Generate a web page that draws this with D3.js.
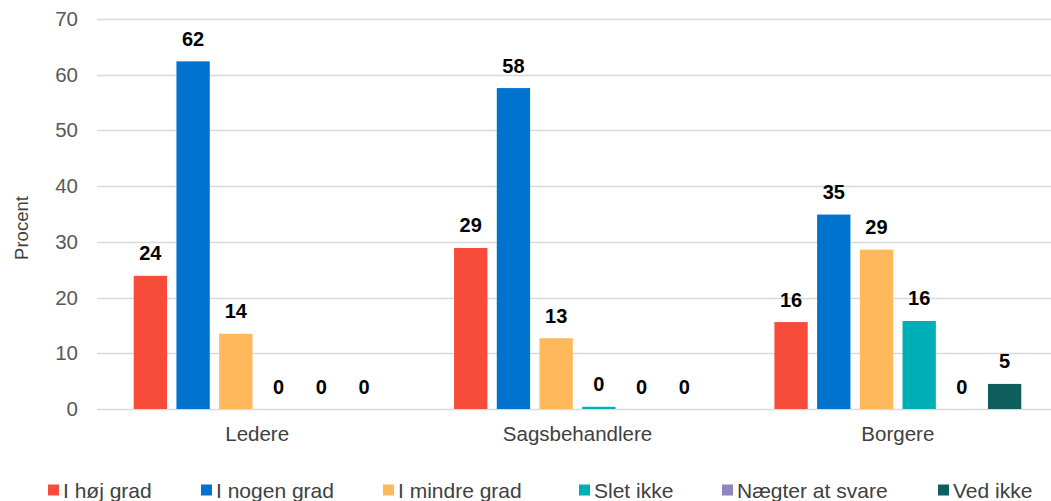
<!DOCTYPE html>
<html><head><meta charset="utf-8">
<script src="https://cdn.jsdelivr.net/npm/d3@7"></script>
<style>html,body{margin:0;padding:0;background:#fff;}svg{display:block;font-family:"Liberation Sans",Arial,sans-serif;}</style>
</head><body><svg id="c" width="1051" height="501"></svg>
<script>
const categories = ["Ledere", "Sagsbehandlere", "Borgere"];
const seriesNames = ["I høj grad", "I nogen grad", "I mindre grad", "Slet ikke", "Nægter at svare", "Ved ikke"];
const seriesColors = ["#F84C3B", "#0073CF", "#FFB85A", "#00AEB8", "#8E86C0", "#0D5E5C"];
const valuesHoej = [23.9, 28.9, 15.6];
const valuesNogen = [62.4, 57.6, 34.9];
const valuesMindre = [13.5, 12.7, 28.6];
const valuesSlet = [0, 0.4, 15.8];
const valuesNaegter = [0, 0, 0];
const valuesVedIkke = [0, 0, 4.5];
const yTicks = [0, 10, 20, 30, 40, 50, 60, 70];
const yTitle = "Procent";

const seriesValues = [valuesHoej, valuesNogen, valuesMindre, valuesSlet, valuesNaegter, valuesVedIkke];
const svg = d3.select("#c");
const y = d3.scaleLinear().domain([0, 70]).range([409, 19]);
const x0 = d3.scaleBand().domain(categories).range([97, 1058]).paddingInner(0.2).paddingOuter(0.1);
const x1 = d3.scaleBand().domain(seriesNames).range([0, x0.bandwidth()]).paddingInner(0.22).paddingOuter(0.11);

// gridlines
svg.append("g").selectAll("line").data(yTicks).join("line")
  .attr("x1", 97).attr("x2", 1051)
  .attr("y1", d => Math.round(y(d)) + 0.5).attr("y2", d => Math.round(y(d)) + 0.5)
  .attr("stroke", "#d9d9d9").attr("stroke-width", 1.3);

// y axis labels
const yAxis = d3.axisLeft(y).tickValues(yTicks).tickSize(0).tickPadding(0);
const ga = svg.append("g").attr("transform", "translate(78,0)").call(yAxis);
ga.select(".domain").remove();
ga.selectAll("text").attr("font-size", 20.5).attr("fill", "#595959")
  .attr("font-family", "'Liberation Sans',Arial,sans-serif");

svg.append("text").attr("transform", "translate(28,228) rotate(-90)")
  .attr("text-anchor", "middle").attr("font-size", 18.5).attr("fill", "#404040").text(yTitle);

// bars
const data = [];
categories.forEach((c, ci) => seriesNames.forEach((s, si) => data.push({c, s, si, v: seriesValues[si][ci]})));
const gb = svg.append("g");
gb.selectAll("rect").data(data).join("rect")
  .attr("x", d => x0(d.c) + x1(d.s))
  .attr("width", x1.bandwidth())
  .attr("y", d => y(d.v))
  .attr("height", d => y(0) - y(d.v))
  .attr("fill", d => seriesColors[d.si]);

gb.selectAll("text").data(data).join("text")
  .attr("x", d => x0(d.c) + x1(d.s) + x1.bandwidth() / 2)
  .attr("y", d => y(d.v) - 15.5)
  .attr("text-anchor", "middle").attr("font-size", 20).attr("font-weight", "bold").attr("fill", "#000")
  .text(d => Math.round(d.v));

// category labels
const xAxis = d3.axisBottom(x0).tickSize(0).tickPadding(0);
const gx = svg.append("g").attr("transform", "translate(0,441)").call(xAxis);
gx.select(".domain").remove();
gx.selectAll("text").attr("font-size", 20.5).attr("fill", "#404040").attr("dy", 0)
  .attr("font-family", "'Liberation Sans',Arial,sans-serif");

// legend
const legX = [48, 201, 383, 579, 722, 938];
const lg = svg.append("g");
seriesNames.forEach((s, i) => {
  lg.append("rect").attr("x", legX[i]).attr("y", 484.5).attr("width", 11).attr("height", 11).attr("fill", seriesColors[i]);
  lg.append("text").attr("x", legX[i] + 15).attr("y", 497.5).attr("font-size", 21).attr("fill", "#404040").text(s);
});
</script></body></html>
